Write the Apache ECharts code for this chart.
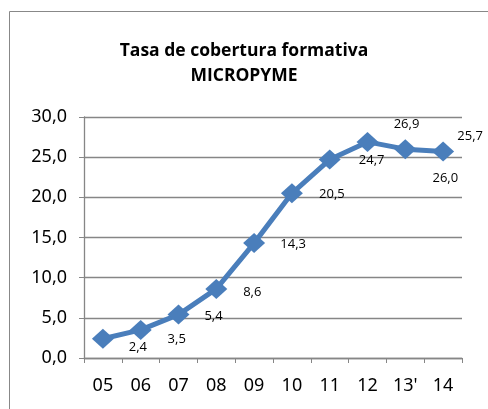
<!DOCTYPE html>
<html>
<head>
<meta charset="utf-8">
<script src="https://cdn.jsdelivr.net/npm/echarts@6/dist/echarts.min.js"></script>
<style>
  html, body { margin: 0; padding: 0; background: #fff; }
  #main { width: 488px; height: 409px; }
</style>
</head>
<body>
<div id="main"></div>
<script>
// datos
var years = ['05', '06', '07', '08', '09', '10', '11', '12', "13'", '14'];
var cobertura = [2.4, 3.5, 5.4, 8.6, 14.3, 20.5, 24.7, 26.9, 26.0, 25.7];
var yTicks = [0, 5, 10, 15, 20, 25, 30];

// desplazamiento de cada etiqueta (como en la hoja original)
var labelOffsets = [[35, 9], [36, 9], [35, 2], [36, 3], [39, 1], [40, 1], [42, 1], [39, -18], [40, 29], [27, -15]];

var fmt = function (v) { return v.toFixed(1).replace('.', ','); };

var chart = echarts.init(document.getElementById('main'));

var option = {
    animation: false,
    backgroundColor: '#fff',
    title: {
        text: 'Tasa de cobertura formativa\nMICROPYME',
        left: 'center',
        top: 34,
        textStyle: {
            fontFamily: 'Open Sans',
            fontWeight: 'bold',
            fontSize: 17.5,
            lineHeight: 25,
            color: '#000'
        }
    },
    graphic: [{
        type: 'rect',
        shape: { x: 9.5, y: 11.5, width: 520, height: 440 },
        style: { fill: null, stroke: '#888', lineWidth: 1 },
        silent: true
    }],
    grid: { left: 84, right: 26, top: 117, bottom: 51 },
    xAxis: {
        type: 'category',
        data: years,
        boundaryGap: true,
        axisLine: { lineStyle: { color: '#868686', width: 1.3 } },
        axisTick: { show: true, length: 5, lineStyle: { color: '#868686' } },
        axisLabel: { fontFamily: 'Noto Sans', fontSize: 18, color: '#000', margin: 19 }
    },
    yAxis: {
        type: 'value',
        min: yTicks[0],
        max: yTicks[yTicks.length - 1],
        interval: 5,
        axisLine: { show: true, lineStyle: { color: '#868686', width: 1.3 } },
        axisTick: { show: true, length: 5, lineStyle: { color: '#868686' } },
        splitLine: { lineStyle: { color: '#868686', width: 1.3 } },
        axisLabel: { fontFamily: 'Noto Sans', fontSize: 18, color: '#000', margin: 17, formatter: fmt }
    },
    series: [{
        type: 'line',
        data: cobertura.map(function (v, i) {
            return { value: v, label: { offset: labelOffsets[i] } };
        }),
        symbol: 'diamond',
        symbolSize: [22, 20],
        lineStyle: { color: '#4A7EBB', width: 5 },
        itemStyle: { color: '#4A7EBB' },
        label: {
            show: true,
            position: 'inside',
            fontFamily: 'Open Sans',
            fontSize: 13,
            color: '#000',
            formatter: function (p) { return fmt(p.value); }
        }
    }]
};

chart.setOption(option);
</script>
</body>
</html>
